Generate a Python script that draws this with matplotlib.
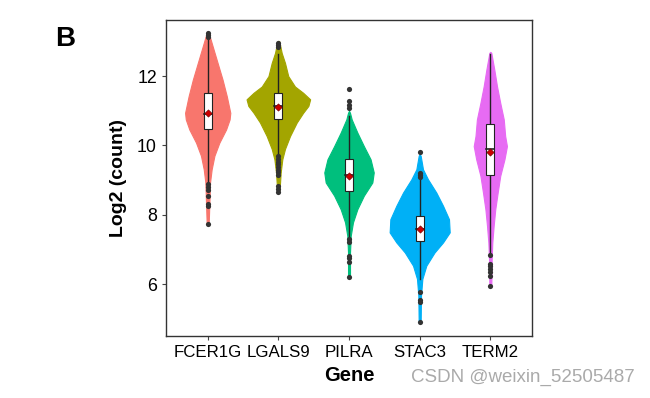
import matplotlib.pyplot as plt
import numpy as np

plt.rcParams['font.family'] = ['Liberation Sans', 'DejaVu Sans']

genes = ["FCER1G", "LGALS9", "PILRA", "STAC3", "TERM2"]
colors = ["#F8766D", "#A3A500", "#00BF7D", "#00B0F6", "#E76BF3"]

# violin outline: y values and half widths (data units)
prof_y = [
    [13.3, 13.25, 12.86, 12.38, 11.9, 11.42, 10.94, 10.75, 10.46, 10.08, 9.7, 9.31, 8.93, 8.35, 7.73, 7.7],
    [13.02, 13.0, 12.67, 12.38, 12.0, 11.7, 11.52, 11.33, 11.14, 10.94, 10.66, 10.27, 9.9, 9.6, 9.22, 8.93, 8.69, 8.66],
    [11.0, 10.94, 10.75, 10.37, 9.98, 9.6, 9.22, 8.93, 8.55, 8.16, 7.78, 7.39, 6.91, 6.2, 6.17],
    [9.75, 9.7, 9.31, 9.02, 8.64, 8.26, 7.87, 7.49, 7.2, 6.91, 6.53, 6.15, 5.67, 4.9, 4.87],
    [12.7, 12.67, 12.19, 11.71, 11.23, 10.75, 10.27, 9.98, 9.6, 9.12, 8.64, 8.16, 7.68, 7.2, 6.72, 5.95, 5.92],
]
prof_w = [
    [0.0, 0.014, 0.07, 0.14, 0.21, 0.27, 0.32, 0.31, 0.26, 0.165, 0.095, 0.056, 0.033, 0.024, 0.014, 0.0],
    [0.0, 0.014, 0.047, 0.094, 0.14, 0.235, 0.35, 0.45, 0.425, 0.35, 0.26, 0.165, 0.094, 0.056, 0.033, 0.024, 0.014, 0.0],
    [0.0, 0.014, 0.038, 0.118, 0.21, 0.305, 0.35, 0.33, 0.21, 0.118, 0.056, 0.024, 0.014, 0.014, 0.0],
    [0.0, 0.014, 0.047, 0.118, 0.235, 0.33, 0.415, 0.425, 0.33, 0.21, 0.094, 0.038, 0.019, 0.014, 0.0],
    [0.0, 0.014, 0.056, 0.094, 0.14, 0.19, 0.21, 0.235, 0.2, 0.14, 0.104, 0.07, 0.047, 0.028, 0.019, 0.014, 0.0],
]

q1 = [10.46, 10.77, 8.69, 7.25, 9.15]
med = [10.92, 11.15, 9.14, 7.6, 9.91]
q3 = [11.52, 11.5, 9.62, 7.97, 10.63]
mean = [10.94, 11.12, 9.12, 7.6, 9.81]
wlo = [8.95, 9.72, 7.35, 6.15, 6.9]
whi = [13.05, 12.63, 10.85, 9.05, 12.65]
outliers = [
    [13.25, 13.18, 13.12, 8.88, 8.8, 8.72, 8.55, 8.32, 8.25, 7.72],
    [12.97, 12.9, 12.84, 9.69, 9.6, 9.52, 9.45, 9.38, 9.3, 9.22, 9.15, 8.83, 8.75, 8.66],
    [11.64, 11.28, 11.16, 11.09, 7.3, 7.22, 6.82, 6.74, 6.64, 6.19],
    [9.82, 9.2, 9.14, 9.08, 5.78, 5.54, 5.47, 4.9],
    [6.84, 6.58, 6.51, 6.43, 6.36, 6.22, 5.95],
]

fig = plt.figure(figsize=(6.5, 3.98), dpi=100)
ax = fig.add_axes([0.2554, 0.1558, 0.5631, 0.794])

for i, g in enumerate(genes):
    x = i + 1
    y = np.array(prof_y[i])
    w = np.array(prof_w[i])
    ax.fill_betweenx(y, x - w, x + w, color=colors[i], lw=0.8, edgecolor=colors[i], zorder=1)
    ax.plot([x, x], [wlo[i], whi[i]], color="#222222", lw=1.0, zorder=2)
    bw = 0.055
    ax.add_patch(plt.Rectangle((x - bw, q1[i]), 2 * bw, q3[i] - q1[i], facecolor="white",
                               edgecolor="#222222", lw=0.8, zorder=3))
    ax.plot([x - bw, x + bw], [med[i], med[i]], color="#222222", lw=1.2, zorder=4)
    ax.scatter([x] * len(outliers[i]), outliers[i], s=14, color="#333333", zorder=4, lw=0)
    ax.scatter([x], [mean[i]], marker="D", s=14, color="#CC0000", edgecolor="#660000", lw=0.4, zorder=5)

ax.set_xlim(0.41, 5.59)
ax.set_ylim(4.5, 13.62)
ax.set_xticks(range(1, 6))
ax.set_xticklabels(genes, fontsize=12.2, color="black")
ax.set_yticks([6, 8, 10, 12])
ax.tick_params(axis="y", labelsize=12.8, colors="black")
ax.tick_params(axis="both", color="#444444", length=3, width=0.8)
for s in ax.spines.values():
    s.set_color("#333333")
    s.set_linewidth(1.0)

ax.set_ylabel("Log2 (count)", fontsize=14, fontweight="bold", labelpad=7)
ax.set_xlabel("Gene", fontsize=14.5, fontweight="bold", labelpad=4)

fig.text(0.085, 0.935, "B", fontsize=20, fontweight="bold", ha="left", va="top")
fig.text(0.977, 0.03, "CSDN @weixin_52505487", fontsize=13.5, color="#AAAAAA", ha="right", va="bottom")

fig.savefig("out.png", dpi=100)
